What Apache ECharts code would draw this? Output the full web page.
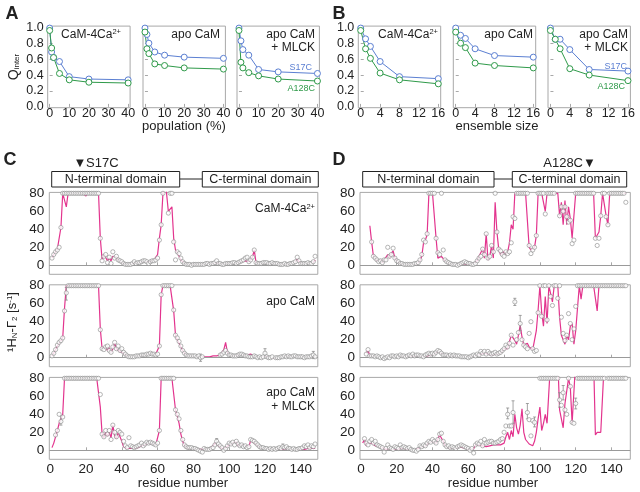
<!DOCTYPE html>
<html>
<head>
<meta charset="utf-8">
<script src="https://cdn.jsdelivr.net/npm/echarts@6/dist/echarts.min.js"></script>
<style>
html, body { margin: 0; padding: 0; background: #fff; }
#chart { width: 640px; height: 492px; }
</style>
</head>
<body>
<div id="chart"></div>
<script>
// ---- panel A / B : Q_inter vs population and ensemble size ----
const popX = [0, 1, 2, 5, 10, 20, 40];
const popS17C_4Ca = [0.99, 0.69, 0.62, 0.57, 0.38, 0.35, 0.34];
const popA128C_4Ca = [0.96, 0.74, 0.62, 0.42, 0.34, 0.31, 0.30];
const popS17C_apo = [0.99, 0.91, 0.80, 0.69, 0.65, 0.625, 0.61];
const popA128C_apo = [0.94, 0.73, 0.67, 0.54, 0.52, 0.49, 0.475];
const popS17C_mlck = [0.99, 0.83, 0.72, 0.65, 0.47, 0.44, 0.42];
const popA128C_mlck = [0.96, 0.56, 0.49, 0.43, 0.39, 0.35, 0.325];

const ensX = [0, 1, 2, 4, 8, 16];
const ensS17C_4Ca = [0.99, 0.855, 0.76, 0.57, 0.38, 0.355];
const ensA128C_4Ca = [0.96, 0.73, 0.61, 0.425, 0.34, 0.29];
const ensS17C_apo = [0.99, 0.90, 0.86, 0.73, 0.645, 0.625];
const ensA128C_apo = [0.94, 0.80, 0.745, 0.55, 0.52, 0.49];
const ensS17C_mlck = [0.99, 0.85, 0.85, 0.72, 0.47, 0.45];
const ensA128C_mlck = [0.96, 0.85, 0.73, 0.48, 0.40, 0.33];

// ---- panel C : S17C PRE rates, residues 1..148 (80 = saturated) ----
const expC_4Ca = [
  8, 12, 15, 17, 20, 42, 80, 80, 80, 80,
  80, 80, 80, 80, 80, 80, 80, 80, 80, 80,
  80, 80, 80, 80, 80, 80, 80, 30, 5, 10,
  12, 3, 9, 2, 15, 8, 10, 6, 5, 4,
  2, 1, 1, 1, 1, 2, 4, 2, 3, 3,
  4, 5, 5, 4, 2, 4, 5, 5, 6, 8,
  28, 45, 80, null, null, 58, 80, 80, 26, 6,
  15, 13, 8, 4, 2, 1, 1, 1, 0, 1,
  1, 1, 1, 1, 1, 1, 2, 2, 1, 2,
  2, 3, 5, 2, 2, 1, 1, 2, 2, 2,
  2, 3, 3, 2, 3, 4, 5, 6, 8, 9,
  4, 6, 9, 17, 3, 2, 2, 2, 3, 3,
  3, 2, 2, 3, 2, 2, 2, 1, 1, 1,
  2, 1, 1, 2, 2, 3, 4, 9, 5, 2,
  2, 2, 2, 3, 2, 2, 4, 10];
const calcC_4Ca = [
  8, 12, 15, 18, 20, 42, 80, 80, 65, 80,
  80, 80, 80, 80, 80, 80, 80, 80, 80, 77,
  80, 80, 80, 80, 80, 80, 80, 30, 6, 12,
  10, 5, 8, 5, 10, 8, 9, 6, 5, 3,
  2, 1, 1, 1, 2, 2, 3, 3, 3, 3,
  3, 4, 4, 4, 3, 4, 5, 6, 8, 12,
  30, 45, 80, 100, 100, 60, 62, 65, 30, 17,
  14, 10, 6, 4, 2, 1, 1, 1, 1, 1,
  1, 1, 1, 1, 1, 1, 1, 2, 2, 2,
  2, 2, 3, 2, 2, 1, 1, 1, 2, 2,
  2, 2, 2, 2, 3, 3, 4, 5, 5, 4,
  4, 6, 9, 17, 3, 2, 2, 2, 2, 2,
  2, 2, 2, 2, 2, 2, 2, 1, 1, 1,
  1, 1, 1, 2, 2, 3, 4, 7, 4, 2,
  2, 2, 2, 2, 2, 2, 3, 6];
const expC_apo = [
  2, 5, 9, 14, 17, 19, 22, 52, 72, 80,
  80, 80, 80, 80, 80, 80, 80, 80, 80, 80,
  80, 80, 80, 80, 80, 80, 80, 31, 10, 9,
  12, 13, 8, 6, 12, 17, 10, 13, 8, 10,
  6, 4, 2, 1, 1, 1, 1, 2, 2, 2,
  3, 3, 3, 4, 4, 5, 4, 4, 3, 4,
  13, 70, 80, 80, 80, 80, 80, 80, 53, 25,
  22, 18, 13, 8, 5, 3, 2, 2, 2, 2,
  2, 1, 2, 0, 1, null, null, null, null, null,
  null, null, null, null, 3, 4, 6, 8, 5, 3,
  3, 2, 2, 2, 3, 4, 4, 3, 2, 2,
  1, 1, 1, 2, 1, 0, 1, 0, 1, 5,
  1, 0, 0, 1, null, 0, 0, 0, 1, 1,
  2, 1, 2, 1, 1, 2, 2, 1, 1, 1,
  1, 0, 1, 1, 1, 2, 3, 1];
const calcC_apo = [
  2, 5, 9, 13, 16, 19, 22, 55, 80, 80,
  80, 80, 80, 80, 80, 80, 80, 80, 80, 80,
  80, 80, 80, 80, 80, 80, 80, 32, 10, 10,
  12, 8, 11, 6, 10, 16, 10, 9, 7, 8,
  5, 3, 2, 1, 1, 1, 1, 2, 2, 2,
  2, 3, 3, 3, 4, 4, 4, 4, 4, 5,
  13, 70, 80, 80, 80, 80, 80, 80, 52, 25,
  20, 16, 12, 8, 5, 3, 2, 2, 2, 2,
  1, 1, 1, 1, 1, 1, 1, 1, 1, 1,
  2, 2, 2, 3, 3, 5, 9, 17, 6, 3,
  2, 2, 2, 2, 3, 4, 4, 3, 2, 3,
  5, 4, 2, 1, 1, 1, 0, 0, 0, 1,
  1, 1, 1, 0, 0, 0, 0, 0, 0, 1,
  1, 2, 2, 2, 1, 1, 1, 1, 1, 1,
  1, 1, 1, 1, 1, 1, 1, 1];
const expC_mlck = [
  null, null, 17, 22, 40, 32, 37, 80, 80, 80,
  80, 80, 80, 80, 80, 80, 80, 80, 80, 80,
  80, 80, 80, 80, 80, 80, 80, 62, 18, 15,
  22, 18, 22, 12, 28, 20, 15, 22, 20, 18,
  10, 5, 3, 14, 5, 4, 3, 4, 5, 6,
  8, 5, 7, 9, 8, 9, 8, 7, 6, 8,
  22, 80, 80, 80, 80, 80, 80, 80, 80, 45,
  40, 35, 22, 12, 6, 4, 3, 3, 3, 2,
  2, 1, 0, -1, -2, 2, 1, 1, 1, 2,
  3, 6, 10, 7, 5, 3, 0, 2, 5, 8,
  7, 9, 6, 10, 7, 5, 6, 4, 5, 3,
  4, 12, 11, 10, 8, 6, 4, 3, 3, 2,
  2, 1, 2, 1, 2, 1, 2, 3, 2, 4,
  3, 4, 2, 2, 1, 2, 1, 1, 2, 2,
  3, 5, 4, 6, 3, 5, 4, 7];
const calcC_mlck = [
  3, 8, 15, 22, 30, 35, 40, 80, 80, 80,
  80, 80, 80, 80, 80, 80, 80, 80, 80, 80,
  80, 80, 80, 80, 80, 80, 80, 48, 18, 14,
  20, 16, 20, 14, 28, 16, 13, 20, 18, 10,
  4, 2, 2, 3, 2, 2, 2, 3, 3, 4,
  5, 4, 6, 8, 8, 8, 7, 6, 6, 7,
  22, 80, 80, 80, 80, 80, 80, 80, 80, 45,
  38, 30, 18, 10, 5, 3, 2, 2, 2, 2,
  1, 1, 1, 1, 1, 1, 1, 1, 2, 3,
  5, 8, 7, 5, 3, 2, 2, 3, 5, 6,
  5, 8, 6, 9, 5, 4, 6, 4, 5, 3,
  4, 11, 10, 8, 7, 5, 3, 2, 2, 2,
  1, 1, 1, 2, 1, 1, 1, 2, 1, 1,
  1, 2, 1, 1, 1, 1, 1, 1, 1, 1,
  1, 1, 2, 2, 3, 2, 2, 2];

// ---- panel D : A128C PRE rates ----
const expD_4Ca = [
  null, null, null, null, null, 26, 10, 8, 6, 4,
  5, 3, 6, 6, 20, 10, 12, 19, 8, 5,
  4, 2, 2, 1, 1, 1, 1, 1, 1, 2,
  2, 3, 6, 12, 28, 26, 35, 80, 80, 80,
  80, 30, 14, 12, 80, 17, 6, 4, 3, 2,
  1, 1, 1, 0, 1, 2, 3, 4, 3, 2,
  2, 1, 1, 2, 5, 8, 10, 18, 12, 35,
  8, 10, 22, 15, 80, 37, 18, 16, 12, 10,
  15, 13, 15, 25, 54, 52, 80, 80, 80, 80,
  80, 80, 80, 22, 13, 17, 20, 33, 80, 80,
  80, 80, 57, 80, 80, 80, 80, 80, null, null,
  55, 65, 60, 65, 54, 48, 50, 24, 28, 80,
  80, 80, 80, 80, 80, 80, 80, 80, 80, 80,
  30, 22, 30, 55, 80, 80, 54, 45, 80, 80,
  80, 80, 80, 80, 80, 80, 80, 70];
const calcD_4Ca = [
  null, null, null, null, 44, 26, 10, 8, 5, 4,
  6, 3, 6, 5, 12, 8, 13, 16, 8, 6,
  3, 2, 1, 1, 1, 1, 1, 1, 1, 1,
  1, 2, 5, 10, 25, 28, 34, 80, 80, 80,
  80, 30, 8, 10, 10, 8, 5, 3, 2, 1,
  1, 1, 1, 1, 1, 2, 2, 2, 1, 1,
  1, 1, 2, 3, 5, 10, 8, 18, 8, 35,
  6, 10, 22, 8, 70, 37, 18, 12, 10, 15,
  12, 15, 25, 45, 40, 80, 80, 80, 80, 80,
  80, 80, 80, 20, 17, 15, 20, 33, 80, 80,
  80, 80, 60, 80, 80, 80, 80, 80, 80, 80,
  55, 70, 45, 72, 45, 65, 52, 30, 28, 80,
  80, 80, 80, 80, 80, 80, 80, 80, 80, 80,
  30, 30, 37, 55, 80, 80, 55, 45, 80, 80,
  80, 80, 80, 80, 80, 80, 80, 80];
const expD_apo = [
  null, null, 4, 9, 2, 2, 2, 1, 2, 1,
  0, 1, -1, 0, 1, 0, 2, 2, 1, 2,
  1, 3, 2, 2, 1, 2, 3, 2, 4, 2,
  3, 3, 2, 2, 1, 3, 4, 5, 4, 5,
  4, 6, 8, 7, 5, 3, 3, 3, 2, 3,
  2, 3, 2, 2, 2, 1, 1, 1, 1, 0,
  1, 2, 3, 2, 4, 3, 7, 5, 7, 4,
  7, 5, 4, 5, 6, 4, 5, 6, 8, 10,
  14, 12, 16, 25, 14, 62, 20, 28, 38, 20,
  14, 12, 10, 27, 40, 10, 7, 8, 50, 80,
  46, 80, 80, 42, 80, 68, 58, 80, 80, 66,
  80, 45, 27, 19, 25, 49, 38, 20, 32, 57,
  80, 80, 80, 80, 80, 80, 80, 80, 80, 80,
  80, 80, 80, 80, 80, 80, 80, 80, 80, 80,
  80, 80, 80, 80, 80, 80, 80, 80];
const calcD_apo = [
  null, null, 5, 8, 2, 2, 2, 1, 1, 1,
  0, 0, 0, 0, 1, 1, 1, 1, 1, 1,
  1, 2, 2, 1, 1, 1, 2, 2, 2, 2,
  2, 2, 2, 2, 1, 2, 2, 3, 3, 4,
  4, 5, 7, 7, 5, 3, 3, 2, 2, 2,
  2, 2, 2, 2, 1, 1, 1, 1, 1, 1,
  1, 1, 2, 2, 3, 3, 4, 4, 5, 4,
  4, 4, 3, 4, 4, 4, 4, 5, 7, 10,
  12, 10, 18, 25, 27, 19, 15, 25, 36, 23,
  14, 15, 16, 12, 10, 9, 9, 30, 53, 80,
  50, 35, 68, 38, 80, 80, 62, 80, 80, 80,
  45, 25, 27, 15, 25, 20, 35, 38, 15, 30,
  55, 80, 65, 80, 80, 80, 80, 80, 80, 80,
  80, 52, 80, 80, 80, 80, 80, 80, 80, 80,
  80, 80, 80, 80, 80, 80, 80, 80];
const expD_mlck = [
  null, 13, 8, 6, 10, 12, 8, 10, 6, 5,
  4, 3, -2, 2, 6, 3, 2, 1, 4, 3,
  2, 6, 3, 4, 3, 2, 3, 1, 0, 0,
  -1, 1, 5, 4, 6, 5, 8, 10, 9, 12,
  10, 8, 12, 18, 19, 10, 6, 4, 5, 3,
  4, 3, 2, 4, 5, 6, 5, 4, 3, 2,
  0, 2, -3, 6, 8, 7, 10, 5, 12, 8,
  9, 10, 10, 8, 8, 9, 10, 12, 13, 20,
  27, 40, 27, 27, 42, null, null, null, null, null,
  null, null, 42, 34, 16, 33, 31, null, null, 80,
  80, 80, 80, 80, 80, 80, 80, 80, 80, 80,
  56, 50, 64, 45, 40, 80, 71, 31, 30, 52,
  80, 80, 80, 80, 80, 80, 80, 80, 80, 80,
  80, 80, 80, 80, 80, 80, null, 80, 80, 80,
  80, 80, 80, 80, 80, 80, 80, 80];
const calcD_mlck = [
  8, 12, 5, 8, 10, 8, 10, 5, 5, 4,
  4, 3, 2, 1, 1, 2, 1, 1, 2, 1,
  1, 2, 2, 2, 1, 1, 1, 0, 0, 0,
  1, 2, 3, 4, 5, 5, 7, 8, 8, 10,
  9, 8, 10, 17, 18, 10, 5, 3, 3, 2,
  2, 2, 2, 3, 4, 4, 3, 3, 2, 1,
  0, 0, 2, 6, 7, 6, 8, 5, 6, 4,
  5, 5, 6, 6, 5, 6, 7, 6, 5, 8,
  15, 20, 12, 22, 15, 40, 25, 18, 28, 46,
  20, 12, 10, 7, 5, 5, 10, 20, 35, 48,
  22, 30, 40, 30, 32, 100, 100, 100, 100, 100,
  45, 45, 25, 52, 50, 80, 70, 30, 30, 100,
  100, 100, 100, 100, 100, 100, 100, 100, 100, 100,
  17, 20, 20, 20, 20, 100, 100, 100, 100, 100,
  100, 100, 100, 100, 100, 100, 100, 100];

// error bars: [residue, low, high]
const errC_apo = [[9, 64, 78], [84, -4, 4], [120, 0, 10], [147, -1, 7]];
const errC_mlck = [[6, 28, 38], [93, 6, 13], [130, 2, 7]];
const errD_apo = [[89, 30, 47], [86, 58, 66]];
const errD_mlck = [[82, 35, 47], [85, 30, 55], [93, 35, 52], [97, 26, 37], [111, 48, 64], [113, 56, 72], [120, 46, 58]];

const BLUE = '#5b7fd2';
const GREEN = '#2f9a4a';
const PINK = '#e3348e';
const GREYPT = '#8c8c8c';
const FRAME = '#a8a8a8';
const FONT = '"Liberation Sans", Arial, sans-serif';

const chart = echarts.init(document.getElementById('chart'), null, { renderer: 'canvas' });

const grids = [], xAxes = [], yAxes = [], series = [];

function pairs(xs, ys) { return xs.map((x, i) => [x, ys[i]]); }
function lineData(vals) { return vals.map((v, i) => [i + 1, v == null ? '-' : v]); }
function pointData(vals) { return vals.map((v, i) => [i + 1, v]).filter(p => p[1] != null); }

// small Q_inter plots (A, B)
function qPlot(left, xmin, xmax, ticks, showY, xs, s17, a128) {
  const idx = grids.length;
  grids.push({ left: left, top: 26.1, width: 82.4, height: 81.6, show: true, borderColor: FRAME, borderWidth: 1 });
  xAxes.push({
    gridIndex: idx, type: 'value', min: xmin, max: xmax,
    axisLine: { show: false },
    axisTick: { show: true, inside: true, length: 3, customValues: ticks, lineStyle: { color: FRAME } },
    axisLabel: { customValues: ticks, margin: -1, fontSize: 12.5, color: '#222', fontFamily: FONT },
    splitLine: { show: false }
  });
  yAxes.push({
    gridIndex: idx, type: 'value', min: -0.01, max: 1.015,
    axisLine: { show: false },
    axisTick: { show: true, inside: true, length: 3, customValues: [0.2, 0.4, 0.6, 0.8], lineStyle: { color: FRAME } },
    axisLabel: { show: showY, customValues: [0, 0.2, 0.4, 0.6, 0.8, 1.0], margin: 4, fontSize: 12.5, color: '#222', fontFamily: FONT,
      formatter: v => v.toFixed(1) },
    splitLine: { show: false }
  });
  [[s17, BLUE], [a128, GREEN]].forEach(([ys, c]) => {
    series.push({
      type: 'line', xAxisIndex: idx, yAxisIndex: idx, data: pairs(xs, ys),
      symbol: 'circle', symbolSize: 6, showSymbol: true,
      lineStyle: { color: c, width: 1 },
      itemStyle: { color: '#fff', borderColor: c, borderWidth: 1 },
      emphasis: { disabled: true }, silent: true
    });
  });
}

qPlot(47.7, -1, 41, [0, 10, 20, 30, 40], true, popX, popS17C_4Ca, popA128C_4Ca);
qPlot(143, -1, 41, [0, 10, 20, 30, 40], false, popX, popS17C_apo, popA128C_apo);
qPlot(237, -1, 41, [0, 10, 20, 30, 40], false, popX, popS17C_mlck, popA128C_mlck);
qPlot(358.3, -0.5, 16.5, [0, 4, 8, 12, 16], true, ensX, ensS17C_4Ca, ensA128C_4Ca);
qPlot(453.3, -0.5, 16.5, [0, 4, 8, 12, 16], false, ensX, ensS17C_apo, ensA128C_apo);
qPlot(548, -0.5, 16.5, [0, 4, 8, 12, 16], false, ensX, ensS17C_mlck, ensA128C_mlck);

// PRE profile plots (C, D)
function errRender(params, api) {
  const x = api.value(0);
  const lo = api.coord([x, api.value(1)]);
  const hi = api.coord([x, api.value(2)]);
  const st = { stroke: GREYPT, lineWidth: 0.8 };
  return { type: 'group', children: [
    { type: 'line', shape: { x1: lo[0], y1: lo[1], x2: hi[0], y2: hi[1] }, style: st },
    { type: 'line', shape: { x1: lo[0] - 1.5, y1: lo[1], x2: lo[0] + 1.5, y2: lo[1] }, style: st },
    { type: 'line', shape: { x1: hi[0] - 1.5, y1: hi[1], x2: hi[0] + 1.5, y2: hi[1] }, style: st }
  ] };
}

function preProfile(left, width, xmax, top, showX, exp, calc, err) {
  const idx = grids.length;
  grids.push({ left: left, top: top, width: width, height: 81.9, show: true, borderColor: FRAME, borderWidth: 1 });
  xAxes.push({
    gridIndex: idx, type: 'value', min: -0.5, max: xmax,
    axisLine: { show: false },
    axisTick: { show: true, inside: true, length: 3, customValues: [20, 40, 60, 80, 100, 120, 140], lineStyle: { color: FRAME } },
    axisLabel: { show: showX, customValues: [0, 20, 40, 60, 80, 100, 120, 140], margin: 3, fontSize: 13.5, color: '#222', fontFamily: FONT },
    splitLine: { show: false }
  });
  yAxes.push({
    gridIndex: idx, type: 'value', min: -10, max: 81,
    axisLine: { show: false },
    axisTick: { show: false },
    axisLabel: { customValues: [0, 20, 40, 60, 80], margin: 5, fontSize: 13.5, color: '#222', fontFamily: FONT },
    splitLine: { show: false }
  });
  series.push({
    type: 'line', xAxisIndex: idx, yAxisIndex: idx, data: lineData(calc),
    showSymbol: false, symbol: 'none', clip: true, connectNulls: false,
    lineStyle: { color: PINK, width: 1.2 }, z: 3, silent: true,
    markLine: { silent: true, symbol: 'none', label: { show: false },
      lineStyle: { color: '#9a9a9a', width: 1, type: 'solid' }, data: [{ yAxis: 0 }] }
  });
  if (err) {
    series.push({
      type: 'custom', xAxisIndex: idx, yAxisIndex: idx, data: err,
      renderItem: errRender, encode: { x: 0, y: [1, 2] }, z: 4, silent: true
    });
  }
  series.push({
    type: 'scatter', xAxisIndex: idx, yAxisIndex: idx, data: pointData(exp),
    symbol: 'circle', symbolSize: 4.2,
    itemStyle: { color: '#fff', borderColor: GREYPT, borderWidth: 0.8 },
    z: 5, silent: true
  });
}

preProfile(49.3, 268.5, 149.5, 192.4, false, expC_4Ca, calcC_4Ca, null);
preProfile(49.3, 268.5, 149.5, 284.8, false, expC_apo, calcC_apo, errC_apo);
preProfile(49.3, 268.5, 149.5, 377.4, true, expC_mlck, calcC_mlck, errC_mlck);
preProfile(360, 270.3, 150.5, 192.4, false, expD_4Ca, calcD_4Ca, null);
preProfile(360, 270.3, 150.5, 284.8, false, expD_apo, calcD_apo, errD_apo);
preProfile(360, 270.3, 150.5, 377.4, true, expD_mlck, calcD_mlck, errD_mlck);

// annotations
function txt(x, y, text, opt) {
  opt = opt || {};
  return {
    type: 'text', x: x, y: y, rotation: opt.rot || 0, silent: true,
    style: {
      text: text, x: 0, y: 0,
      fontSize: opt.size || 12, fontWeight: opt.bold ? 'bold' : 'normal', fontFamily: FONT,
      fill: opt.color || '#222',
      align: opt.align || 'center', verticalAlign: 'middle',
      textAlign: opt.align || 'center', textVerticalAlign: 'middle',
      rich: opt.rich
    }
  };
}
function box(x, y, w, h) {
  return { type: 'rect', shape: { x: x, y: y, width: w, height: h }, silent: true,
    style: { fill: '#fff', stroke: '#222', lineWidth: 1 } };
}
function seg(x1, y1, x2, y2) {
  return { type: 'line', shape: { x1: x1, y1: y1, x2: x2, y2: y2 }, silent: true,
    style: { stroke: '#222', lineWidth: 1 } };
}
const caRich = { a: { fontSize: 12, fontFamily: FONT, fill: '#222' }, s: { fontSize: 7.5, fontFamily: FONT, fill: '#222', verticalAlign: 'top', padding: [0, 0, 5, 0] } };
const qRich = { a: { fontSize: 14, fontFamily: FONT, fill: '#222' }, s: { fontSize: 8, fontFamily: FONT, fill: '#222', verticalAlign: 'bottom' } };
const gRich = {
  a: { fontSize: 13, fontFamily: FONT, fill: '#222' },
  s: { fontSize: 8, fontFamily: FONT, fill: '#222', verticalAlign: 'bottom' },
  p: { fontSize: 8, fontFamily: FONT, fill: '#222', verticalAlign: 'top', padding: [0, 0, 5, 0] }
};

const graphics = [
  txt(12, 14, 'A', { bold: true, size: 18 }),
  txt(339, 14, 'B', { bold: true, size: 18 }),
  txt(10, 160, 'C', { bold: true, size: 18 }),
  txt(339, 160, 'D', { bold: true, size: 18 }),

  txt(121, 34.5, '{a|CaM-4Ca}{s|2+}', { align: 'right', rich: caRich }),
  txt(220, 34.5, 'apo CaM', { align: 'right' }),
  txt(315, 34.5, 'apo CaM', { align: 'right' }),
  txt(315, 48, '+ MLCK', { align: 'right' }),
  txt(312, 68, 'S17C', { align: 'right', size: 9, color: BLUE }),
  txt(315, 89, 'A128C', { align: 'right', size: 9, color: GREEN }),

  txt(438, 34.5, '{a|CaM-4Ca}{s|2+}', { align: 'right', rich: caRich }),
  txt(533, 34.5, 'apo CaM', { align: 'right' }),
  txt(628, 34.5, 'apo CaM', { align: 'right' }),
  txt(628, 48, '+ MLCK', { align: 'right' }),
  txt(627, 67, 'S17C', { align: 'right', size: 9, color: BLUE }),
  txt(625, 87, 'A128C', { align: 'right', size: 9, color: GREEN }),

  txt(14, 67, '{a|Q}{s|inter}', { rot: Math.PI / 2, rich: qRich }),
  txt(184, 126.5, 'population (%)', { size: 13 }),
  txt(497, 126.5, 'ensemble size', { size: 13 }),

  // domain bars
  seg(180, 179, 202, 179),
  box(51.7, 171.5, 128, 15.5),
  box(202.3, 171.5, 116, 15.5),
  txt(115.7, 179.5, 'N-terminal domain', { size: 12.5 }),
  txt(260.3, 179.5, 'C-terminal domain', { size: 12.5 }),
  txt(80, 163, '▼', { size: 13 }),
  txt(86, 163, 'S17C', { align: 'left', size: 13 }),

  seg(494, 179, 512.3, 179),
  box(362.7, 171.5, 131.3, 15.5),
  box(512.3, 171.5, 114.4, 15.5),
  txt(428.3, 179.5, 'N-terminal domain', { size: 12.5 }),
  txt(569.5, 179.5, 'C-terminal domain', { size: 12.5 }),
  txt(589.5, 163, '▼', { size: 13 }),
  txt(583, 163, 'A128C', { align: 'right', size: 13 }),

  txt(315, 209, '{a|CaM-4Ca}{s|2+}', { align: 'right', rich: caRich }),
  txt(315, 302, 'apo CaM', { align: 'right' }),
  txt(315, 393, 'apo CaM', { align: 'right' }),
  txt(315, 407, '+ MLCK', { align: 'right' }),

  txt(12, 322, '{a|¹H}{s|N}{a|-Γ}{s|2}{a| [s}{p|-1}{a|]}', { rot: Math.PI / 2, rich: gRich }),
  txt(183, 483, 'residue number', { size: 13 }),
  txt(493, 483, 'residue number', { size: 13 })
];

chart.setOption({
  animation: false,
  backgroundColor: '#fff',
  textStyle: { fontFamily: FONT },
  grid: grids,
  xAxis: xAxes,
  yAxis: yAxes,
  series: series,
  graphic: { elements: graphics }
});
</script>
</body>
</html>
